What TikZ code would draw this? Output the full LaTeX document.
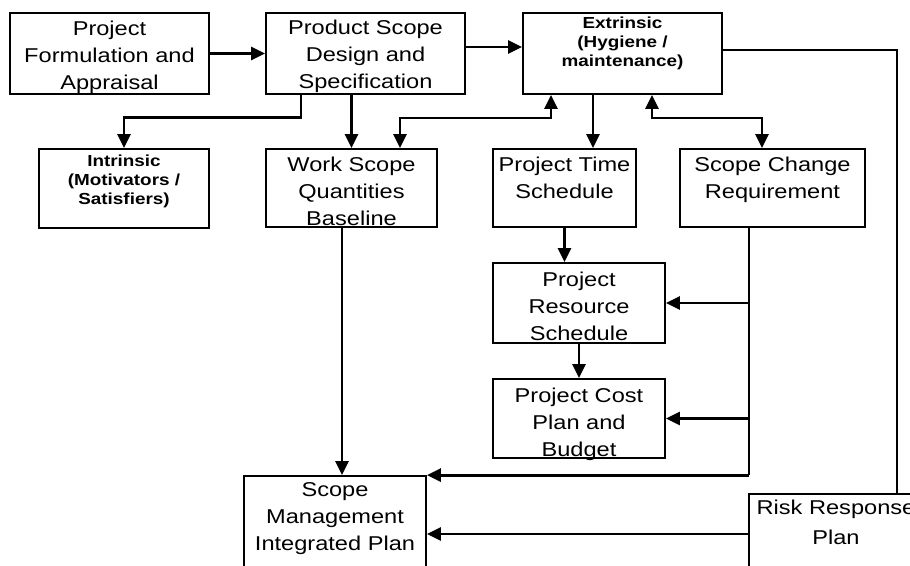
\documentclass[tikz,border=0pt]{standalone}
\usepackage{fontspec}
\setmainfont[FakeStretch=1.18]{Liberation Sans}
\usetikzlibrary{arrows.meta,positioning}

\tikzset{
  blk/.style={draw, line width=1.8pt, inner sep=0pt},
  txt/.style={inner sep=0pt, align=center, font=\fontsize{20}{27}\selectfont},
  btxt/.style={inner sep=0pt, align=center, font=\fontsize{16}{19}\selectfont\bfseries},
  arr/.style={line width=2.9pt, -{Triangle[length=14pt,width=13pt]}},
  dbl/.style={line width=2.9pt, {Triangle[length=14pt,width=13pt]}-{Triangle[length=14pt,width=13pt]}},
  ln/.style={line width=1.8pt},
}

\begin{document}
\begin{tikzpicture}[x=1pt, y=-1pt]
\useasboundingbox (0,0) rectangle (910,565);
\clip (0,0) rectangle (910,565);

% boxes
\node[blk, minimum width=199pt, minimum height=81pt] (pfa) at (109.5,53.5) {};
\node[blk, minimum width=199pt, minimum height=81pt] (psd) at (365.5,53.5) {};
\node[blk, minimum width=199pt, minimum height=81pt] (ext) at (622.5,53.5) {};
\node[blk, minimum width=170pt, minimum height=79pt] (int) at (124,188.5) {};
\node[blk, minimum width=171pt, minimum height=78pt] (wsq) at (351.5,188) {};
\node[blk, minimum width=143pt, minimum height=78pt] (pts) at (564.5,188) {};
\node[blk, minimum width=185pt, minimum height=78pt] (scr) at (772.5,188) {};
\node[blk, minimum width=172pt, minimum height=80pt] (prs) at (579,303) {};
\node[blk, minimum width=172pt, minimum height=79pt] (pcb) at (579,418.5) {};
\node[blk, minimum width=182pt, minimum height=124pt] (smp) at (335,538) {};
\node[blk, minimum width=174pt, minimum height=106pt] (risk) at (836,547) {};

% labels
\node[txt, below=9pt of pfa.north] (pfa-t) {Project\\Formulation and\\Appraisal};
\node[txt, below=8pt of psd.north] (psd-t) {Product Scope\\Design and\\Specification};
\node[btxt, below=4.5pt of ext.north] (ext-t) {Extrinsic\\(Hygiene /\\maintenance)};
\node[btxt, below=6.5pt of int.north] (int-t) {Intrinsic\\(Motivators /\\Satisfiers)};
\node[txt, below=9pt of wsq.north] (wsq-t) {Work Scope\\Quantities\\Baseline};
\node[txt, below=9pt of pts.north] (pts-t) {Project Time\\Schedule};
\node[txt, below=9pt of scr.north] (scr-t) {Scope Change\\Requirement};
\node[txt, below=9.5pt of prs.north] (prs-t) {Project\\Resource\\Schedule};
\node[txt, below=9.5pt of pcb.north] (pcb-t) {Project Cost\\Plan and\\Budget};
\node[txt, below=7pt of smp.north] (smp-t) {Scope\\Management\\Integrated Plan};
\node[txt, below=7pt of risk.north, font=\fontsize{20}{30}\selectfont] (risk-t) {Risk Response\\Plan};

% top row
\draw[arr] (pfa.east) -- (psd.west);
\draw[arr] (psd.east |- 0,47) -- (ext.west |- 0,47);
\draw[ln] (ext.east |- 0,50) -| (risk.north -| 897,0);

% second row
\draw[arr] (psd.south -| 301,0) -- ++(0,23) -| (int.north);
\draw[arr] (wsq.north |- psd.south) -- (wsq.north);
\draw[dbl] (ext.south -| 551,0) |- (400,118) -- (wsq.north -| 400,0);
\draw[arr] (ext.south -| 593,0) -- (pts.north -| 593,0);
\draw[dbl] (ext.south -| 652,0) |- (762,118) -- (scr.north -| 762,0);

% schedule and cost
\draw[arr] (pts.south) -- (prs.north -| pts.south);
\draw[arr] (prs.south) -- (pcb.north);
\draw[ln] (scr.south -| 749,0) -- (smp.north -| 749,0);
\draw[arr] (prs.east -| 749,0) -- (prs.east);
\draw[arr] (pcb.east -| 749,0) -- (pcb.east);
\draw[arr] (smp.north -| 749,0) -- (smp.north east);

% into the plan
\draw[arr] (wsq.south -| 342,0) -- (smp.north -| 342,0);
\draw[arr] (risk.west |- 0,534) -- (smp.east |- 0,534);

\end{tikzpicture}
\end{document}
